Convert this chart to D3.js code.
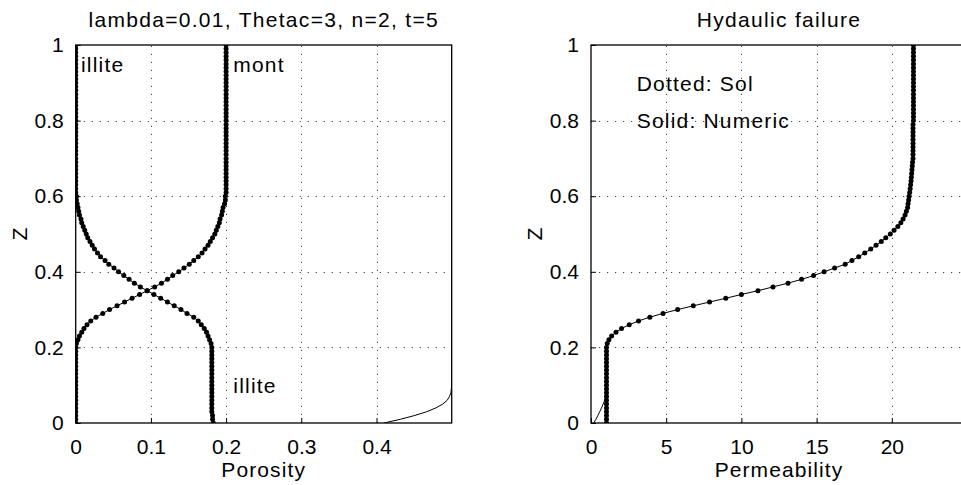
<!DOCTYPE html>
<html>
<head>
<meta charset="utf-8">
<script src="https://cdn.jsdelivr.net/npm/d3@7"></script>
<style>
  body { margin: 0; background: #fff; }
  svg text { font-family: "Liberation Sans", Arial, Helvetica, sans-serif; fill: #000; }
</style>
</head>
<body>
<div id="chart"></div>
<script>
// depth samples, z = 0 .. 1 every 0.01
var zs = d3.range(0, 101).map(function(i) { return i / 100; });

// porosity, analytic solution (dotted)
var illite = [
  0.183, 0.182, 0.182, 0.181, 0.181, 0.181, 0.181, 0.181, 0.181, 0.181,
  0.181, 0.181, 0.181, 0.181, 0.181, 0.181, 0.181, 0.181, 0.181, 0.181,
  0.181, 0.180, 0.178, 0.176, 0.174, 0.171, 0.167, 0.163, 0.157, 0.148,
  0.140, 0.131, 0.122, 0.113, 0.104, 0.095, 0.086, 0.078, 0.071, 0.064,
  0.057, 0.051, 0.044, 0.039, 0.033, 0.029, 0.025, 0.022, 0.019, 0.016,
  0.014, 0.012, 0.010, 0.008, 0.007, 0.005, 0.004, 0.003, 0.002, 0.001,
  0.001, 0, 0, 0, 0, 0, 0, 0, 0, 0,
  0, 0, 0, 0, 0, 0, 0, 0, 0, 0,
  0, 0, 0, 0, 0, 0, 0, 0, 0, 0,
  0, 0, 0, 0, 0, 0, 0, 0, 0, 0,
  0
];
var mont = [
  0, 0, 0, 0, 0, 0, 0, 0, 0, 0,
  0, 0, 0, 0, 0, 0, 0, 0, 0, 0,
  0, 0.001, 0.003, 0.005, 0.008, 0.011, 0.015, 0.020, 0.027, 0.036,
  0.045, 0.055, 0.065, 0.075, 0.085, 0.095, 0.105, 0.114, 0.122, 0.129,
  0.137, 0.144, 0.151, 0.157, 0.163, 0.168, 0.172, 0.176, 0.179, 0.182,
  0.185, 0.187, 0.189, 0.191, 0.192, 0.194, 0.195, 0.196, 0.198, 0.199,
  0.199, 0.2, 0.2, 0.2, 0.2, 0.2, 0.2, 0.2, 0.2, 0.2,
  0.2, 0.2, 0.2, 0.2, 0.2, 0.2, 0.2, 0.2, 0.2, 0.2,
  0.2, 0.2, 0.2, 0.2, 0.2, 0.2, 0.2, 0.2, 0.2, 0.2,
  0.2, 0.2, 0.2, 0.2, 0.2, 0.2, 0.2, 0.2, 0.2, 0.2,
  0.2
];
// thin numeric curve near the bottom right of the porosity panel
var edgeZ = [0, 0.01, 0.02, 0.03, 0.04, 0.05, 0.06, 0.07, 0.08, 0.09, 0.10, 1.0];
var edgePhi = [0.41, 0.432, 0.451, 0.467, 0.479, 0.488, 0.494, 0.497, 0.499, 0.4995, 0.5, 0.5];

// permeability, analytic solution (dotted)
var perm = [
  1.03, 1.03, 1.03, 1.03, 1.03, 1.03, 1.03, 1.03, 1.03, 1.03,
  1.03, 1.03, 1.03, 1.03, 1.03, 1.03, 1.03, 1.03, 1.03, 1.03,
  1.03, 1.08, 1.19, 1.37, 1.66, 2.03, 2.54, 3.16, 3.91, 4.79,
  5.76, 6.80, 7.88, 8.96, 10.0, 11.1, 12.1, 13.1, 14.0, 14.8,
  15.5, 16.2, 16.9, 17.35, 17.8, 18.2, 18.6, 18.95, 19.3, 19.6,
  19.9, 20.15, 20.4, 20.6, 20.75, 20.88, 20.97, 21.05, 21.08, 21.12,
  21.15, 21.19, 21.22, 21.25, 21.28, 21.30, 21.32, 21.34, 21.36, 21.38,
  21.41, 21.41, 21.41, 21.41, 21.41, 21.41, 21.41, 21.41, 21.41, 21.41,
  21.44, 21.44, 21.44, 21.44, 21.44, 21.44, 21.44, 21.44, 21.44, 21.44,
  21.44, 21.44, 21.44, 21.44, 21.44, 21.44, 21.44, 21.44, 21.44, 21.44,
  21.44
];
// numeric permeability differs only at the very bottom (z = 0 .. 0.08)
var permNumBottom = [0.18, 0.33, 0.46, 0.58, 0.70, 0.81, 0.91, 0.98, 1.02];
var permNum = permNumBottom.concat(perm.slice(permNumBottom.length));

var zTicks = [0, 0.2, 0.4, 0.6, 0.8, 1];
var phiTicks = [0, 0.1, 0.2, 0.3, 0.4];
var permTicks = [0, 5, 10, 15, 20];

var chart = (function() {

  var W = 961, H = 485;
  var top = 45, bottom = 423, boxW = 376;
  var svg;

  function init() {
    svg = d3.select('#chart').append('svg')
      .attr('width', W).attr('height', H);

    var y = d3.scaleLinear().domain([0, 1]).range([bottom, top]);
    var xPhi = d3.scaleLinear().domain([0, 0.5]).range([75.7, 75.7 + boxW]);
    var xK = d3.scaleLinear().domain([0, 25]).range([591, 591 + boxW]);

    // left panel: porosity
    var p1 = panel('p1', xPhi, y, phiTicks, function(d) { return d === 0 ? '0' : d3.format('.1f')(d); });
    line(p1, xPhi, y, zs, illite);
    line(p1, xPhi, y, zs, mont);
    line(p1, xPhi, y, edgeZ, edgePhi);
    dots(p1, xPhi, y, zs, illite);
    dots(p1, xPhi, y, zs, mont);
    title(xPhi, 'lambda=0.01, Thetac=3, n=2, t=5', 'Porosity');
    note(81, 71.7, 'illite');
    note(233.3, 71.7, 'mont');
    note(233.3, 393.3, 'illite');

    // right panel: permeability
    var p2 = panel('p2', xK, y, permTicks, function(d) { return d; });
    line(p2, xK, y, zs, permNum);
    dots(p2, xK, y, zs, perm);
    title(xK, 'Hydaulic failure', 'Permeability');
    note(636.7, 90.7, 'Dotted: Sol');
    note(636.7, 128.3, 'Solid: Numeric');
  }

  function panel(id, x, y, xTicks, xFmt) {
    var x0 = x.range()[0], x1 = x.range()[1];
    var g = svg.append('g');

    svg.append('clipPath').attr('id', id)
      .append('rect').attr('x', x0).attr('y', top)
      .attr('width', x1 - x0).attr('height', bottom - top);

    // dotted grid
    var grid = g.append('g')
      .attr('stroke', '#444').attr('stroke-width', 1)
      .attr('stroke-dasharray', '1.2,6.8');
    grid.selectAll('.gx').data(xTicks.filter(function(d) { return d > 0; }))
      .enter().append('line')
      .attr('x1', function(d) { return Math.round(x(d)) + 0.5; })
      .attr('x2', function(d) { return Math.round(x(d)) + 0.5; })
      .attr('y1', bottom).attr('y2', top);
    grid.selectAll('.gy').data(zTicks.filter(function(d) { return d > 0 && d < 1; }))
      .enter().append('line')
      .attr('y1', function(d) { return Math.round(y(d)) + 0.5; })
      .attr('y2', function(d) { return Math.round(y(d)) + 0.5; })
      .attr('x1', x0).attr('x2', x1);

    // axes with inward ticks
    var ax = g.append('g').attr('transform', 'translate(0,' + bottom + ')')
      .call(d3.axisBottom(x).tickValues(xTicks).tickFormat(xFmt).tickSizeInner(-5).tickSizeOuter(0).tickPadding(11));
    var ay = g.append('g').attr('transform', 'translate(' + x0 + ',0)')
      .call(d3.axisLeft(y).tickValues(zTicks).tickFormat(function(d) { return d === 0 || d === 1 ? d : d3.format('.1f')(d); }).tickSizeInner(-5).tickSizeOuter(0).tickPadding(12));
    [ax, ay].forEach(function(a) {
      a.select('.domain').remove();
      a.selectAll('line').attr('stroke', '#000');
      a.selectAll('text').attr('font-size', 21).attr('fill', '#000');
    });
    ax.selectAll('text').attr('dy', '0.95em');

    // box
    g.append('rect')
      .attr('x', x0).attr('y', top)
      .attr('width', x1 - x0).attr('height', bottom - top)
      .attr('fill', 'none').attr('stroke', '#000').attr('stroke-width', 1.3);

    // y label
    g.append('text')
      .attr('transform', 'translate(' + (x0 - 49) + ',' + ((top + bottom) / 2) + ') rotate(-90)')
      .attr('text-anchor', 'middle').attr('font-size', 21)
      .text('Z');

    return svg.append('g').attr('clip-path', 'url(#' + id + ')');
  }

  function line(g, x, y, zArr, vArr) {
    var pts = zArr.map(function(z, i) { return [vArr[i], z]; });
    g.append('path').datum(pts)
      .attr('fill', 'none').attr('stroke', '#000').attr('stroke-width', 1)
      .attr('d', d3.line().x(function(d) { return x(d[0]); }).y(function(d) { return y(d[1]); }));
  }

  function dots(g, x, y, zArr, vArr) {
    var pts = zArr.map(function(z, i) { return [vArr[i], z]; });
    g.append('g').selectAll('circle').data(pts)
      .enter().append('circle')
      .attr('cx', function(d) { return x(d[0]); })
      .attr('cy', function(d) { return y(d[1]); })
      .attr('r', 2.5)
      .attr('fill', '#000');
  }

  function title(x, t, xl) {
    var cx = (x.range()[0] + x.range()[1]) / 2;
    svg.append('text').attr('x', cx).attr('y', 27)
      .attr('text-anchor', 'middle').attr('font-size', 21).attr('letter-spacing', 1.3)
      .text(t);
    svg.append('text').attr('x', cx).attr('y', 476.5)
      .attr('text-anchor', 'middle').attr('font-size', 21).attr('letter-spacing', 1.1)
      .text(xl);
  }

  function note(px, py, t) {
    svg.append('text').attr('x', px).attr('y', py)
      .attr('font-size', 21).attr('letter-spacing', 1.2)
      .text(t);
  }

  return {
    init: init
  };

})();

chart.init();
</script>
</body>
</html>
